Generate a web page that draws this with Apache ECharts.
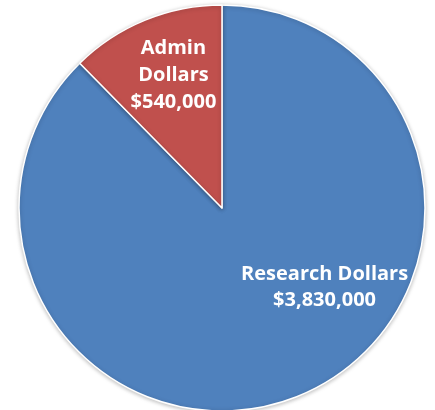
<!DOCTYPE html>
<html>
<head>
<meta charset="utf-8">
<script src="https://cdn.jsdelivr.net/npm/echarts@6/dist/echarts.min.js"></script>
<style>html,body{margin:0;padding:0;background:#fff;}#c{width:435px;height:410px;}</style>
</head>
<body>
<div id="c"></div>
<script>
const categories = ["Research Dollars", "Admin Dollars"];
const values = [3830000, 540000];
const labelTexts = ["Research Dollars\n$3,830,000", "Admin\nDollars\n$540,000"];
const colors = ["#4F81BD", "#C0504D"];

const chart = echarts.init(document.getElementById('c'));
const offsets = [[63, -17], [-9, -36]];
chart.setOption({
  animation: false,
  series: [{
    type: 'pie',
    center: [222, 208],
    radius: [0, 203],
    startAngle: 90,
    clockwise: true,
    silent: true,
    data: categories.map((n, i) => ({
      name: n,
      value: values[i],
      itemStyle: { color: colors[i] },
      label: { formatter: labelTexts[i], lineHeight: i === 1 ? 27 : 26 }
    })),
    itemStyle: {
      borderColor: '#fff',
      borderWidth: 1.5,
      shadowBlur: 4,
      shadowColor: 'rgba(0,0,0,0.25)',
      shadowOffsetY: 1
    },
    label: {
      show: true,
      position: 'inside',
      color: '#fff',
      fontFamily: 'Open Sans',
      fontWeight: 'bold',
      fontSize: 20,
      align: 'center'
    },
    labelLine: { show: false },
    labelLayout: function (p) {
      return { dx: offsets[p.dataIndex][0], dy: offsets[p.dataIndex][1] };
    }
  }]
});
</script>
</body>
</html>
